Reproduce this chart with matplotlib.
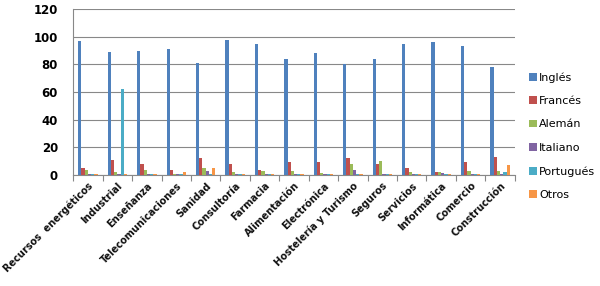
import matplotlib.pyplot as plt
import numpy as np

sectores = ['Recursos  energéticos', 'Industrial', 'Enseñanza', 'Telecomunicaciones',
            'Sanidad', 'Consultoría', 'Farmacia', 'Alimentación', 'Electrónica',
            'Hostelería y Turismo', 'Seguros', 'Servicios', 'Informática',
            'Comercio', 'Construcción']
idiomas = ['Inglés', 'Francés', 'Alemán', 'Italiano', 'Portugués', 'Otros']

ingles = [97, 89, 90, 91, 81, 98, 95, 84, 88, 80, 84, 95, 96, 93, 78]
frances = [5, 11, 8, 3.5, 12.5, 8, 4, 9.5, 9.5, 12, 8, 5, 2, 9.5, 13]
aleman = [4, 2, 4, 1, 5, 2.5, 3, 3, 1.5, 8, 10.5, 2, 2.5, 3, 3]
italiano = [1, 0.5, 1, 0.5, 3, 1, 0.5, 0.5, 0.5, 3.5, 0.5, 0.5, 1.5, 0.5, 0.5]
portugues = [0.5, 62, 0.5, 0.5, 0.5, 0.5, 0.5, 0.5, 0.5, 0.5, 0.5, 0.5, 0.5, 0.5, 2.5]
otros = [0.5, 0.5, 0.5, 2, 5, 0.5, 0.5, 0.5, 0.5, 0.5, 0.5, 0.5, 0.5, 0.5, 7]

series = [ingles, frances, aleman, italiano, portugues, otros]
colores = ['#4F81BD', '#C0504D', '#9BBB59', '#8064A2', '#4BACC6', '#F79646']

fig = plt.figure(figsize=(6, 2.86), dpi=100)
ax = fig.add_axes([0.122, 0.388, 0.736, 0.58])

x = np.arange(len(sectores))
w = 0.11
for i, (vals, c) in enumerate(zip(series, colores)):
    ax.bar(x + (i - 2.5) * w, vals, w, color=c, label=idiomas[i], zorder=3)

ax.set_xlim(-0.5, len(sectores) - 0.5)
ax.set_ylim(0, 120)
ax.set_yticks(range(0, 121, 20))
ax.yaxis.grid(True, color='#888888', linewidth=0.8, zorder=0)
ax.tick_params(axis='y', length=0, labelsize=8.5, pad=11)
for t in ax.get_yticklabels():
    t.set_fontweight('bold')

# marcas entre categorias, etiquetas centradas
ax.set_xticks(np.arange(-0.5, len(sectores), 1))
ax.set_xticklabels([])
ax.set_xticks(x, minor=True)
ax.set_xticklabels(sectores, minor=True, rotation=45, ha='right',
                   rotation_mode='anchor', fontsize=7, fontweight='semibold',
                   color='#111111')
ax.tick_params(axis='x', which='major', length=4, color='#888888')
ax.tick_params(axis='x', which='minor', length=0, pad=4)

for s in ['top', 'right']:
    ax.spines[s].set_visible(False)
ax.spines['left'].set_color('#888888')
ax.spines['bottom'].set_color('#888888')

ax.legend(loc='center left', bbox_to_anchor=(1.01, 0.235), frameon=False,
          fontsize=8, handlelength=0.7, handleheight=0.7, handletextpad=0.2,
          labelspacing=1.2)

fig.savefig('out.png', dpi=100)
